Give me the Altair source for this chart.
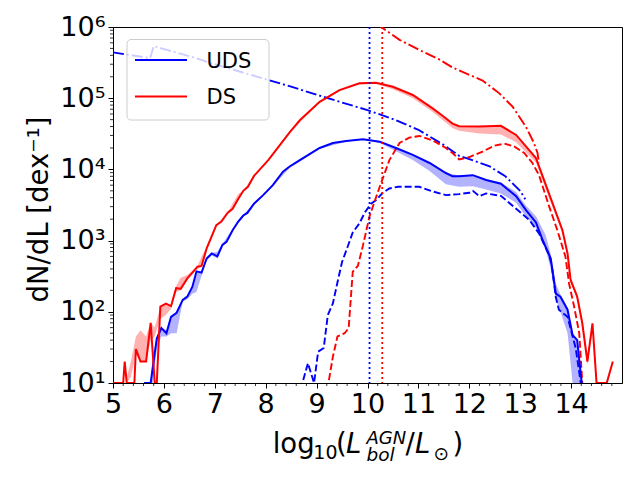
import altair as alt
import pandas as pd

# ---------------- data ----------------
# DS (red) solid
ds_x = [5.0, 5.2, 5.23, 5.27, 5.42, 5.45, 5.54, 5.65, 5.74, 5.82, 5.86, 5.93, 6.04, 6.14, 6.24, 6.33, 6.46, 6.56, 6.66, 6.74,
        6.84, 7.03, 7.13, 7.25, 7.35, 7.46, 7.56, 7.65, 7.77, 8.05, 8.27, 8.47, 8.67, 9.06, 9.45, 9.84, 10.17, 10.5, 10.89, 11.28,
        11.5, 11.67, 11.8, 12.2, 12.62, 12.92, 13.31, 13.57, 13.83, 13.93, 13.99, 14.12, 14.22, 14.32, 14.42, 14.5, 14.7, 14.82]
ds_y = [10, 10, 20, 10, 10, 30, 20, 20, 70, 10, 10, 118, 130, 120, 215, 210, 295, 355, 430, 440,
        780, 1650, 1850, 2450, 2800, 3850, 5000, 5700, 8100, 13500, 21500, 33000, 49000, 89000, 130000, 162000, 165000, 145000, 111000, 72000,
        55000, 44000, 40500, 40000, 41000, 30500, 14400, 4500, 1400, 660, 280, 163, 69, 20, 69, 10, 10, 20]

# DS band
dsb_x = [5.2, 5.23, 5.27, 5.35, 5.45, 5.54, 5.65, 5.74, 5.82, 5.93, 6.04, 6.14, 6.24, 6.33, 6.46, 6.56, 6.66, 6.74, 6.84, 7.03,
         7.25, 7.46, 7.56, 7.77, 8.05, 8.47, 9.06, 9.45, 9.84, 10.17, 10.5, 10.89, 11.28, 11.67, 11.8, 12.2, 12.62, 12.92, 13.31, 13.57,
         13.83, 13.93, 13.99, 14.12, 14.22, 14.32, 14.42, 14.5]
dsb_lo = [10, 18, 10, 12, 25, 20, 20, 40, 45, 80, 90, 110, 190, 200, 280, 340, 400, 430, 720, 1600,
          2400, 3700, 4900, 8000, 13300, 32500, 87000, 126000, 156000, 158000, 134000, 100000, 64000, 38000, 35000, 32000, 31000, 24000, 12500, 3900,
          1250, 600, 260, 150, 60, 18, 55, 10]
dsb_hi = [10, 20, 12, 20, 45, 55, 45, 70, 60, 118, 130, 125, 230, 300, 330, 380, 440, 600, 800, 1650,
          2500, 4500, 5000, 8100, 13500, 33000, 89000, 130000, 162000, 165000, 145000, 111000, 72000, 44000, 40500, 40000, 41000, 30500, 14400, 4600,
          1400, 700, 300, 180, 80, 25, 70, 12]

# UDS (blue) solid
uds_x = [5.0, 5.06, 5.09, 5.6, 5.63, 5.74, 5.86, 5.95, 6.05, 6.14, 6.25, 6.37, 6.46, 6.56, 6.64, 6.74, 6.84, 6.94, 7.05, 7.15,
         7.23, 7.35, 7.46, 7.56, 7.64, 7.77, 7.95, 8.14, 8.34, 8.47, 8.67, 9.06, 9.32, 9.58, 9.91, 10.24, 10.56, 10.89, 11.22, 11.54,
         11.67, 11.8, 12.07, 12.33, 12.62, 12.92, 13.11, 13.31, 13.44, 13.6, 13.7, 13.79, 13.93, 14.03, 14.12, 14.16, 14.21]
uds_y = [10, 10, 1, 1, 10, 10, 42, 59, 50, 85, 97, 147, 163, 225, 370, 355, 560, 660, 600, 870,
         960, 1400, 1850, 2250, 2450, 3300, 4350, 6000, 9300, 11000, 13500, 20000, 23500, 25000, 26500, 24500, 20000, 16000, 12300, 8900,
         8000, 8000, 8300, 7100, 6300, 4200, 2700, 1800, 1020, 560, 180, 163, 107, 47, 40, 21, 10]

# UDS band
udsb_x = [5.74, 5.78, 5.86, 5.95, 6.05, 6.14, 6.25, 6.37, 6.46, 6.56, 6.64, 6.74, 6.84, 6.94, 7.05, 7.15, 7.35, 7.56, 7.77, 8.14,
          8.47, 8.67, 9.06, 9.58, 9.91, 10.24, 10.56, 10.89, 11.22, 11.54, 11.8, 12.07, 12.33, 12.62, 12.92, 13.11, 13.31, 13.5, 13.6, 13.7,
          13.79, 13.93, 14.03, 14.12, 14.16, 14.21]
udsb_lo = [10, 10, 30, 45, 45, 50, 50, 140, 150, 180, 190, 320, 530, 620, 560, 820, 1350, 2150, 3200, 5800,
           10500, 12800, 19500, 24500, 26000, 23500, 18000, 13500, 9500, 6200, 5700, 5800, 5200, 4600, 3400, 2200, 1500, 750, 400, 150,
           100, 50, 10, 10, 10, 10]
udsb_hi = [10, 25, 42, 59, 55, 85, 100, 150, 170, 230, 380, 370, 570, 670, 700, 900, 1450, 2300, 3350, 6100,
           11200, 13800, 20500, 25500, 27000, 25000, 20500, 16200, 12500, 9000, 8200, 8400, 7300, 6600, 4800, 3100, 2200, 1200, 650, 250,
           175, 115, 50, 42, 25, 10]

# UDS dashed
udsd_x = [8.7, 8.73, 8.83, 8.95, 9.03, 9.14, 9.22, 9.32, 9.42, 9.5, 9.61, 9.71, 9.84, 9.95, 10.07, 10.17, 10.3, 10.43, 10.6, 10.76,
          11.02, 11.28, 11.54, 11.8, 12.0, 12.07, 12.2, 12.33, 12.62, 12.92, 13.18, 13.37, 13.57, 13.62, 13.7, 13.76, 13.93, 14.09, 14.19]
udsd_y = [8, 10.5, 19, 10, 27.5, 31, 90, 131, 280, 500, 820, 1300, 1740, 2500, 3300, 3700, 4700, 5400, 5700, 5700,
          5700, 4900, 4350, 4500, 4700, 5000, 4200, 4600, 4250, 2800, 1950, 1260, 620, 450, 160, 107, 85, 31, 10]

# DS dashed
dsd_x = [9.21, 9.32, 9.41, 9.55, 9.63, 9.71, 9.81, 9.91, 10.04, 10.14, 10.24, 10.43, 10.63, 10.82, 11.02, 11.28, 11.54, 11.67, 11.8, 11.99,
         12.26, 12.49, 12.69, 12.88, 13.08, 13.24, 13.37, 13.57, 13.73, 13.89, 13.96, 14.06, 14.16, 14.22]
dsd_y = [8, 23.5, 45, 50, 59, 365, 440, 850, 2200, 3550, 5700, 13500, 23500, 28000, 29500, 25500, 20000, 17000, 13800, 14800,
         17800, 21500, 23000, 21000, 17000, 12300, 8300, 3000, 1400, 590, 250, 118, 50, 10]

# DS dash-dot
dsdd_x = [10.2, 10.27, 10.63, 11.02, 11.41, 11.67, 11.9, 12.26, 12.59, 12.85, 13.11, 13.27, 13.34, 13.37]
dsdd_y = [1150000, 1000000, 660000, 475000, 350000, 270000, 229000, 177000, 117000, 76000, 40000, 23500, 17000, 12300]

# UDS dash-dot
udsdd_x = [5.0, 5.73, 5.8, 6.0, 6.5, 7.0, 7.5, 8.0, 8.5, 9.0, 9.5, 10.0, 10.5, 11.0, 11.5, 11.8, 12.1, 12.4, 12.7, 13.0, 13.1]
udsdd_y = [440000, 365000, 540000, 490000, 390000, 300000, 235000, 185000, 145000, 112000, 87000, 68000, 51000, 36000, 22000,
           15500, 13200, 11000, 8100, 5000, 3800]

# vertical dotted lines
vline_uds = [10.04]
vline_ds = [10.29]

x_ticks = [5, 6, 7, 8, 9, 10, 11, 12, 13, 14]
y_ticks = [10, 100, 1000, 10000, 100000, 1000000]
x_minor = [round(i + f, 1) for i in range(5, 15) for f in (0.2, 0.4, 0.6, 0.8)]
y_minor = [m * 10 ** k for k in range(1, 6) for m in range(2, 10)]

legend_labels = ["UDS", "DS"]

# ---------------- chart ----------------
FONT = "DejaVu Sans"
BLUE = "#0000ff"
RED = "#ff0000"
W, H = 509, 356

xs = alt.Scale(domain=[5, 15], nice=False, zero=False)
ys = alt.Scale(type="log", domain=[10, 1000000], nice=False)

label_expr = ("datum.value < 30 ? '10¹' : datum.value < 300 ? '10²' : datum.value < 3000 ? '10³' : "
              "datum.value < 30000 ? '10⁴' : datum.value < 300000 ? '10⁵' : '10⁶'")

x_axis = alt.Axis(values=x_ticks, format="d", title=None, grid=False, labelFont=FONT, labelFontSize=27,
                  labelColor="black", tickSize=5, tickColor="black", tickWidth=1, domainColor="black",
                  labelPadding=3, labelFlush=False, labelOverlap=False)
y_axis = alt.Axis(values=y_ticks, labelExpr=label_expr, title="dN/dL [dex⁻¹]", grid=False,
                  labelFont=FONT, labelFontSize=27, labelColor="black", tickSize=5, tickColor="black",
                  tickWidth=1, domainColor="black", labelPadding=3, labelFlush=False, labelOverlap=False,
                  titleFont=FONT, titleFontSize=27.5, titleFontWeight="normal", titleColor="black",
                  titleAngle=270, titleX=-66, titleY=182, titleAlign="center", titleBaseline="alphabetic")


def X(field):
    return alt.X(field, scale=xs, axis=x_axis)


def Y(field):
    return alt.Y(field, scale=ys, axis=y_axis)


def band(xv, lo, hi, color):
    df = pd.DataFrame({"x": xv, "lo": lo, "hi": hi})
    return alt.Chart(df).mark_area(color=color, opacity=0.3, clip=True).encode(
        x=X("x:Q"), y=Y("lo:Q"), y2="hi:Q")


def line(xv, yv, color, dash=None, width=2.0):
    df = pd.DataFrame({"x": xv, "y": yv})
    kw = dict(color=color, strokeWidth=width, clip=True)
    if dash:
        kw["strokeDash"] = dash
    return alt.Chart(df).mark_line(**kw).encode(x=X("x:Q"), y=Y("y:Q"))


def vline(xv, color):
    df = pd.DataFrame({"x": xv})
    return alt.Chart(df).mark_rule(color=color, strokeWidth=1.8, strokeDash=[2, 3]).encode(x=X("x:Q"))


DASH = [7, 3]
DASHDOT = [11, 3, 2, 3]

layers = [
    band(udsb_x, udsb_lo, udsb_hi, BLUE),
    band(dsb_x, dsb_lo, dsb_hi, RED),
    line(udsdd_x, udsdd_y, BLUE, DASHDOT, 1.9),
    line(dsdd_x, dsdd_y, RED, DASHDOT, 1.9),
    line(udsd_x, udsd_y, BLUE, DASH, 1.9),
    line(dsd_x, dsd_y, RED, DASH, 1.9),
    line(uds_x, uds_y, BLUE, None, 2.0),
    line(ds_x, ds_y, RED, None, 2.0),
    vline(vline_uds, BLUE),
    vline(vline_ds, RED),
]

# minor ticks
layers.append(alt.Chart(pd.DataFrame({"x": x_minor})).mark_rule(color="black", strokeWidth=0.8).encode(
    x=X("x:Q"), y=alt.value(H), y2=alt.value(H + 3)))
layers.append(alt.Chart(pd.DataFrame({"y": y_minor})).mark_rule(color="black", strokeWidth=0.8).encode(
    y=Y("y:Q"), x=alt.value(0), x2=alt.value(-3)))

one = pd.DataFrame({"d": [0]})

# legend (drawn box, lines and labels)
layers.append(alt.Chart(one).mark_rect(fill="white", fillOpacity=0.8, stroke="#cccccc", strokeWidth=1,
                                       cornerRadius=4).encode(
    x=alt.value(14), x2=alt.value(156), y=alt.value(12.5), y2=alt.value(93)))
for lab, col, yy in zip(legend_labels, [BLUE, RED], [33, 69.5]):
    layers.append(alt.Chart(one).mark_rule(color=col, strokeWidth=2).encode(
        x=alt.value(22), x2=alt.value(74), y=alt.value(yy)))
    layers.append(alt.Chart(one).mark_text(text=lab, font=FONT, fontSize=21, align="left",
                                           baseline="alphabetic", color="black").encode(
        x=alt.value(93.5), y=alt.value(yy + 7.5)))

# x-axis title assembled from pieces: log10(L^AGN_bol / L_sun)
title_parts = [
    ("log", 159.7, 425.5, 27.5, "normal"),
    ("10", 200.3, 432.3, 19.0, "normal"),
    ("(", 223.0, 425.5, 27.5, "normal"),
    ("L", 233.0, 425.5, 27.5, "italic"),
    ("AGN", 253.5, 417.0, 18.0, "italic"),
    ("bol", 253.5, 433.5, 18.5, "italic"),
    ("/", 292.5, 425.5, 27.5, "normal"),
    ("L", 302.0, 425.5, 27.5, "italic"),
    ("⊙", 320.5, 433.0, 18.5, "normal"),
    (")", 339.5, 425.5, 27.5, "normal"),
]
for txt, px, py, fs, st in title_parts:
    layers.append(alt.Chart(one).mark_text(text=txt, font=FONT, fontSize=fs, fontStyle=st, align="left",
                                           baseline="alphabetic", color="black").encode(
        x=alt.value(px), y=alt.value(py)))

chart = alt.layer(*layers).properties(
    width=W, height=H,
    padding={"left": 105, "top": 19, "right": 10, "bottom": 90},
    autosize=alt.AutoSizeParams(type="none"),
).configure_view(stroke="black", strokeWidth=1)

chart.save("out.html", embed_options={"renderer": "svg", "actions": False})
